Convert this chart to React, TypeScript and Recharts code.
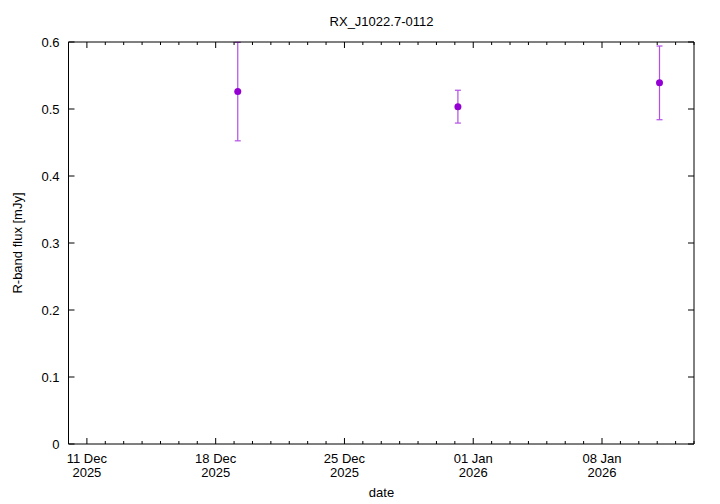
import React from 'react';
import { ScatterChart, Scatter, XAxis, YAxis, ErrorBar, Customized } from 'recharts';

const obsDates = ['2025-12-19T04:48:00Z', '2025-12-31T04:00:00Z', '2026-01-11T03:00:00Z'];
const fluxValues = [0.526, 0.5035, 0.539];
const fluxErrors = [0.0735, 0.0245, 0.055];

const majorTickDates = ['2025-12-11', '2025-12-18', '2025-12-25', '2026-01-01', '2026-01-08'];
const majorTickLabels = [['11 Dec', '2025'], ['18 Dec', '2025'], ['25 Dec', '2025'], ['01 Jan', '2026'], ['08 Jan', '2026']];
const yTicks = [0, 0.1, 0.2, 0.3, 0.4, 0.5, 0.6];
const yTickLabels = ['0', '0.1', '0.2', '0.3', '0.4', '0.5', '0.6'];

const DAY = 86400000;
const xStart = Date.parse('2025-12-10T00:00:00Z');
const xEnd = Date.parse('2026-01-13T00:00:00Z');

const majorTicks = majorTickDates.map((d) => Date.parse(d + 'T00:00:00Z'));
const allTicks: number[] = [];
for (let t = xStart; t <= xEnd; t += DAY) allTicks.push(t);

const data = obsDates.map((d, i) => ({ t: Date.parse(d), flux: fluxValues[i], err: fluxErrors[i] }));

const FONT = '"Liberation Sans", Arial, Helvetica, sans-serif';
const W = 720;
const H = 504;

const BottomTick = (props: any) => {
  const { x, y, payload } = props;
  const idx = majorTicks.indexOf(payload.value);
  const major = idx >= 0;
  return (
    <g>
      <line x1={x} x2={x} y1={y} y2={y - (major ? 6 : 3)} stroke="#000" strokeWidth={1} />
      {major && (
        <g fontSize={13} fontFamily={FONT} fill="#000">
          <text x={x} y={y + 19} textAnchor="middle">{majorTickLabels[idx][0]}</text>
          <text x={x} y={y + 33} textAnchor="middle">{majorTickLabels[idx][1]}</text>
        </g>
      )}
    </g>
  );
};

const TopTick = (props: any) => {
  const { x, y, payload } = props;
  const major = majorTicks.indexOf(payload.value) >= 0;
  return <line x1={x} x2={x} y1={y} y2={y + (major ? 6 : 3)} stroke="#000" strokeWidth={1} />;
};

const LeftTick = (props: any) => {
  const { x, y, payload } = props;
  const idx = yTicks.indexOf(payload.value);
  return (
    <g>
      <line x1={x} x2={x + 6} y1={y} y2={y} stroke="#000" strokeWidth={1} />
      <text x={x - 9} y={y + 4.5} textAnchor="end" fontSize={13} fontFamily={FONT} fill="#000">
        {yTickLabels[idx]}
      </text>
    </g>
  );
};

const RightTick = (props: any) => {
  const { x, y } = props;
  return <line x1={x} x2={x - 6} y1={y} y2={y} stroke="#000" strokeWidth={1} />;
};

const Labels = () => (
  <g fontFamily={FONT} fontSize={13} fill="#000">
    <text x={381.5} y={26} textAnchor="middle">RX_J1022.7-0112</text>
    <text x={381.5} y={497} textAnchor="middle">date</text>
    <text x={22} y={243} textAnchor="middle" transform="rotate(-90 22 243)">R-band flux [mJy]</text>
  </g>
);

export default function App() {
  return (
    <div style={{ position: 'absolute', left: 0, top: 0, width: W, height: H, background: '#fff' }}>
      <ScatterChart width={W} height={H} margin={{ top: 12, right: 0, bottom: 0, left: 0 }}>
        <XAxis
          xAxisId="bottom"
          type="number"
          dataKey="t"
          orientation="bottom"
          domain={[xStart, xEnd]}
          allowDataOverflow
          ticks={allTicks}
          interval={0}
          tickSize={0}
          tickMargin={0}
          tickLine={false}
          tick={<BottomTick />}
          height={60}
          axisLine={{ stroke: '#000', strokeWidth: 1 }}
        />
        <XAxis
          xAxisId="top"
          type="number"
          dataKey="t"
          orientation="top"
          domain={[xStart, xEnd]}
          allowDataOverflow
          ticks={allTicks}
          interval={0}
          tickSize={0}
          tickMargin={0}
          tickLine={false}
          tick={<TopTick />}
          height={30}
          axisLine={{ stroke: '#000', strokeWidth: 1 }}
        />
        <YAxis
          yAxisId="left"
          type="number"
          dataKey="flux"
          orientation="left"
          domain={[0, 0.6]}
          allowDataOverflow
          ticks={yTicks}
          interval={0}
          tickSize={0}
          tickMargin={0}
          tickLine={false}
          tick={<LeftTick />}
          width={68.5}
          axisLine={{ stroke: '#000', strokeWidth: 1 }}
        />
        <YAxis
          yAxisId="right"
          type="number"
          dataKey="flux"
          orientation="right"
          domain={[0, 0.6]}
          allowDataOverflow
          ticks={yTicks}
          interval={0}
          tickSize={0}
          tickMargin={0}
          tickLine={false}
          tick={<RightTick />}
          width={26}
          axisLine={{ stroke: '#000', strokeWidth: 1 }}
        />
        <Scatter
          data={data}
          xAxisId="bottom"
          yAxisId="left"
          fill="#9400d3"
          shape={(p: any) => <circle cx={p.cx} cy={p.cy} r={3.5} fill="#9400d3" />}
          isAnimationActive={false}
        >
          <ErrorBar dataKey="err" direction="y" width={3} stroke="#b34ee6" strokeWidth={1.2} isAnimationActive={false} />
        </Scatter>
        <Scatter
          data={data}
          xAxisId="top"
          yAxisId="right"
          fill="none"
          shape={() => <g />}
          isAnimationActive={false}
        />
        <Customized component={Labels} />
      </ScatterChart>
    </div>
  );
}
